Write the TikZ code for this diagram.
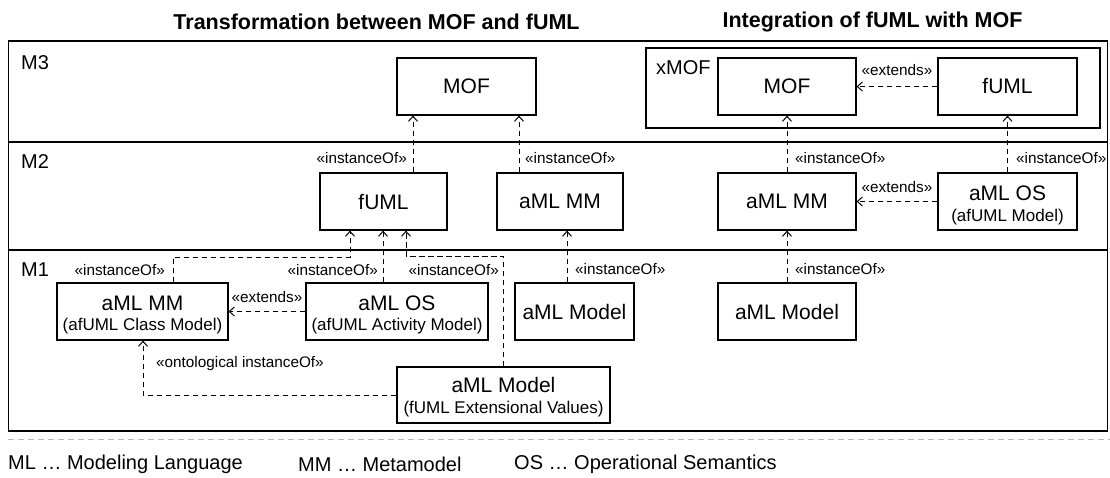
\documentclass[tikz,border=0pt]{standalone}
\usepackage{fontspec}
\setmainfont{Liberation Sans}
\usetikzlibrary{arrows.meta}
\begin{document}
\begin{tikzpicture}[x=1pt,y=-1pt,
  box/.style={draw, line width=1.2pt, inner sep=0pt, minimum height=57pt, font=\fontsize{21}{24}\selectfont},
  big/.style={font=\fontsize{21}{24}\selectfont, inner sep=0pt},
  sub/.style={font=\fontsize{17}{20}\selectfont, inner sep=0pt},
  lab/.style={font=\fontsize{15.3}{17}\selectfont, inner sep=0pt},
  lvl/.style={font=\fontsize{20}{22}\selectfont, inner sep=0pt, anchor=west},
  ttl/.style={font=\bfseries\fontsize{21.5}{24}\selectfont, inner sep=0pt},
  leg/.style={font=\fontsize{20}{22}\selectfont, inner sep=0pt, anchor=west},
  dep/.style={line width=1pt, dash pattern=on 5.5pt off 3.5pt, -{Straight Barb[length=5pt,width=9pt,line width=1pt]}}
]
\useasboundingbox (0,0) rectangle (1110,477);

% titles
\node[ttl] (t1) at (376.5,22) {Transformation between MOF and fUML};
\node[ttl] (t2) at (872.5,22) {Integration of fUML with MOF};

% frame and layers
\draw[line width=1.5pt] (8.5,41) rectangle (1107.5,431);
\draw[line width=1.5pt] (8.5,142) -- (1107.5,142);
\draw[line width=1.5pt] (8.5,250) -- (1107.5,250);
\node[lvl] (m3) at (21,63) {M3};
\node[lvl] (m2) at (21,162) {M2};
\node[lvl] (m1) at (21,270) {M1};

% M3
\node[box, minimum width=139pt] (mofL) at (466.5,86.5) {MOF};
\node[draw, line width=1.2pt, inner sep=0pt, minimum width=454pt, minimum height=80pt] (xmof) at (873,88) {};
\node[lvl] (xmoft) at (656,68) {xMOF};
\node[box, minimum width=138pt] (mofR) at (787,86.5) {MOF};
\node[box, minimum width=139pt] (fumlR) at (1007.5,86.5) {fUML};

% M2
\node[box, minimum width=127pt] (fumlL) at (383.5,201.5) {fUML};
\node[box, minimum width=126pt] (mmL) at (560,201.5) {aML MM};
\node[box, minimum width=138pt] (mmR) at (787,201.5) {aML MM};
\node[box, minimum width=139pt] (osR) at (1007.5,201.5) {};
\node[big] (osRa) at (1007.5,193) {aML OS};
\node[sub] (osRb) at (1007.5,217) {(afUML Model)};

% M1
\node[box, minimum width=171pt] (mmM1) at (142.5,311.5) {};
\node[big] (mmM1a) at (142.5,303) {aML MM};
\node[sub] (mmM1b) at (142.5,326) {(afUML Class Model)};
\node[box, minimum width=182pt] (osM1) at (397,311.5) {};
\node[big] (osM1a) at (397,303) {aML OS};
\node[sub] (osM1b) at (397,326) {(afUML Activity Model)};
\node[box, minimum width=119pt] (modelMid) at (574.5,311.5) {aML Model};
\node[box, minimum width=138pt] (modelR) at (787,311.5) {aML Model};
\node[box, minimum width=213pt, minimum height=56pt] (fev) at (503.5,395) {};
\node[big] (feva) at (503.5,385) {aML Model};
\node[sub] (fevb) at (503.5,409) {(fUML Extensional Values)};

% connectors M2 -> M3
\draw[dep] (413,0 |- fumlL.north) -- (413,0 |- mofL.south);
\node[lab, anchor=east] (l1) at (407,158) {«instanceOf»};
\draw[dep] (519,0 |- mmL.north) -- (519,0 |- mofL.south);
\node[lab, anchor=west] (l2) at (525,158) {«instanceOf»};
\draw[dep] (mmR.north) -- (mofR.south);
\node[lab, anchor=west] (l3) at (795,158) {«instanceOf»};
\draw[dep] (osR.north) -- (fumlR.south);
\node[lab, anchor=west] (l4) at (1016,158) {«instanceOf»};
\draw[dep] (fumlR.west) -- (mofR.east);
\node[lab] (l5) at (897,70) {«extends»};
\draw[dep] (osR.west) -- (mmR.east);
\node[lab] (l6) at (897,187) {«extends»};

% connectors M1 -> M2
\draw[dep] (modelR.north) -- (mmR.south);
\node[lab, anchor=west] (l7) at (795,269) {«instanceOf»};
\draw[dep] (567,0 |- modelMid.north) -- (567,0 |- mmL.south);
\node[lab, anchor=west] (l8) at (575,269) {«instanceOf»};
\draw[dep] (383,0 |- osM1.north) -- (383,0 |- fumlL.south);
\node[lab, anchor=east] (l9) at (378,270) {«instanceOf»};
\draw[dep] (173,0 |- mmM1.north) -- (173,257) -- (350,257) -- (350,0 |- fumlL.south);
\node[lab, anchor=east] (l10) at (165,270) {«instanceOf»};
\draw[dep] (fev.north) -- (503.5,256) -- (406,256) -- (406,0 |- fumlL.south);
\node[lab, anchor=east] (l11) at (499,270) {«instanceOf»};
\draw[dep] (osM1.west) -- (mmM1.east);
\node[lab] (l12) at (267,297) {«extends»};
\draw[dep] (fev.west) -- (143,0 |- fev.west) -- (143,0 |- mmM1.south);
\node[lab, anchor=west] (l13) at (156,364) {«ontological instanceOf»};

% legend
\draw[gray!55, line width=1pt, dash pattern=on 6pt off 4pt] (8,439) -- (1110,439);
\node[leg] (g1) at (8,464) {ML … Modeling Language};
\node[leg] (g2) at (298,464) {MM … Metamodel};
\node[leg] (g3) at (514,464) {OS … Operational Semantics};
\end{tikzpicture}
\end{document}
